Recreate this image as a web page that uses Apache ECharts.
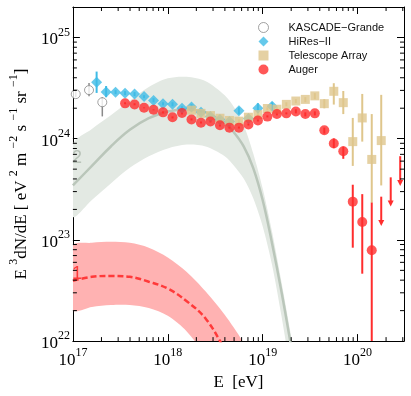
<!DOCTYPE html>
<html>
<head>
<meta charset="utf-8">
<script src="https://cdn.jsdelivr.net/npm/echarts@6/dist/echarts.min.js"></script>
<style>
html, body { margin: 0; padding: 0; background: #fff; }
#chart { width: 411px; height: 396px; }
</style>
</head>
<body>
<div id="chart"></div>
<script>
// every value is kept as log10: E in eV, E^3 dN/dE in eV^2 m^-2 s^-1 sr^-1
var kascadeE  = [17.03, 17.17, 17.31];
var kascadeJ  = [24.44, 24.48, 24.36];
var kascadeLo = [24.41, 24.42, 24.22];
var kascadeHi = [24.47, 24.55, 24.41];

var hiresE  = [17.25, 17.35, 17.45, 17.55, 17.65, 17.75, 17.85, 17.95, 18.05, 18.15, 18.25, 18.35, 18.45, 18.55, 18.65, 18.75, 18.85, 18.95, 19.1];
var hiresJ  = [24.558, 24.462, 24.459, 24.449, 24.442, 24.416, 24.378, 24.346, 24.339, 24.301, 24.314, 24.26, 24.22, 24.19, 24.17, 24.276, 24.2, 24.30, 24.32];
var hiresLo = [24.452, 24.41, 24.44, 24.43, 24.42, 24.40, 24.36, 24.33, 24.32, 24.28, 24.29, 24.24, 24.20, 24.17, 24.15, 24.24, 24.18, 24.25, 24.28];
var hiresHi = [24.663, 24.52, 24.48, 24.47, 24.46, 24.43, 24.40, 24.36, 24.36, 24.32, 24.34, 24.28, 24.24, 24.21, 24.19, 24.31, 24.22, 24.35, 24.36];

var taE  = [18.25, 18.35, 18.45, 18.55, 18.65, 18.75, 18.85, 18.95, 19.05, 19.15, 19.25, 19.35, 19.45, 19.55, 19.65, 19.75, 19.85, 19.95, 20.05, 20.15, 20.25];
var taJ  = [24.282, 24.25, 24.228, 24.202, 24.18, 24.173, 24.212, 24.238, 24.298, 24.291, 24.339, 24.372, 24.388, 24.423, 24.346, 24.468, 24.356, 23.971, 24.205, 23.795, 23.981];
var taLo = [24.27, 24.24, 24.22, 24.19, 24.17, 24.16, 24.20, 24.22, 24.28, 24.27, 24.32, 24.35, 24.36, 24.39, 24.30, 24.337, 24.243, 23.731, 23.971, 23.365, 23.538];
var taHi = [24.29, 24.26, 24.24, 24.21, 24.19, 24.19, 24.22, 24.25, 24.31, 24.31, 24.36, 24.39, 24.41, 24.45, 24.39, 24.548, 24.471, 24.205, 24.442, 24.243, 24.433];

var augerE  = [17.55, 17.65, 17.75, 17.85, 17.95, 18.05, 18.15, 18.25, 18.35, 18.45, 18.55, 18.65, 18.75, 18.85, 18.95, 19.05, 19.15, 19.25, 19.35, 19.45, 19.55, 19.65, 19.75, 19.85, 19.95, 20.05, 20.15];
var augerJ  = [24.349, 24.337, 24.305, 24.286, 24.26, 24.212, 24.253, 24.189, 24.157, 24.17, 24.132, 24.109, 24.109, 24.141, 24.18, 24.218, 24.243, 24.25, 24.269, 24.243, 24.25, 24.084, 23.952, 23.875, 23.378, 23.176, 22.897];
var augerLo = [24.34, 24.33, 24.30, 24.28, 24.25, 24.20, 24.24, 24.18, 24.15, 24.16, 24.12, 24.10, 24.10, 24.13, 24.17, 24.21, 24.23, 24.24, 24.25, 24.22, 24.23, 24.05, 23.907, 23.801, 22.923, 22.666, 21.9];
var augerHi = [24.36, 24.35, 24.31, 24.29, 24.27, 24.22, 24.26, 24.20, 24.17, 24.18, 24.14, 24.12, 24.12, 24.15, 24.19, 24.23, 24.26, 24.26, 24.29, 24.26, 24.27, 24.11, 24.003, 23.923, 23.545, 23.452, 23.368];

// Auger upper limits: value at top, arrow tip at bottom
var limitE   = [20.25, 20.35, 20.45];
var limitTop = [23.427, 23.618, 23.827];
var limitBot = [23.138, 23.33, 23.532];

// model 2 (grey band) and model 1 (red band)
var model2E     = [17.0, 17.2, 17.4, 17.6, 17.8, 18.0, 18.2, 18.4, 18.6, 18.7, 18.8, 18.9, 19.0, 19.1, 19.2, 19.3, 19.4];
var model2Upper = [23.942, 24.096, 24.231, 24.375, 24.51, 24.596, 24.611, 24.567, 24.428, 24.308, 24.135, 23.856, 23.51, 23.077, 22.577, 22.048, 21.45];
var model2Mid   = [23.538, 23.731, 23.923, 24.087, 24.202, 24.269, 24.288, 24.26, 24.154, 24.058, 23.923, 23.712, 23.394, 22.962, 22.481, 21.95, 21.4];
var model2Lower = [23.231, 23.394, 23.558, 23.712, 23.827, 23.904, 23.942, 23.923, 23.827, 23.731, 23.606, 23.413, 23.135, 22.75, 22.24, 21.66, 21.0];

var model1E     = [17.0, 17.2, 17.4, 17.6, 17.8, 18.0, 18.2, 18.4, 18.6, 18.8, 19.0];
var model1Upper = [22.942, 22.971, 22.981, 22.971, 22.923, 22.827, 22.683, 22.49, 22.26, 21.98, 21.6];
var model1Mid   = [22.596, 22.635, 22.644, 22.635, 22.587, 22.519, 22.394, 22.221, 21.92, 21.6, 21.2];
var model1Lower = [22.308, 22.337, 22.356, 22.356, 22.327, 22.25, 22.096, 21.85, 21.55, 21.2, 20.8];

// minor tick multipliers (2..9 x 10^n)
var minorMult = [2, 3, 4, 5, 6, 7, 8, 9];
var xMin = 17, xMax = 20.49, yMin = 22, yMax = 25.301;

var serif = 'Liberation Serif';
var sans = 'Liberation Sans';

function pairs(xs, ys) {
  return xs.map(function (x, i) { return [x, ys[i]]; });
}
function triples(xs, lo, hi) {
  return xs.map(function (x, i) { return [x, lo[i], hi[i]]; });
}

var xMinor = [], yMinor = [];
for (var n = 17; n <= 20; n++) {
  minorMult.forEach(function (m) {
    var v = n + Math.log10(m);
    if (v < xMax) xMinor.push([v, yMin]);
  });
}
for (var k = 22; k <= 25; k++) {
  minorMult.forEach(function (m) {
    var v = k + Math.log10(m);
    if (v <= yMax + 1e-6) yMinor.push([xMin, v]);
  });
}

function powLabel(v) {
  if (Math.abs(v - Math.round(v)) > 1e-6) return '';
  return '{b|10}{s|' + Math.round(v) + '}';
}
var powRich = {
  b: { fontFamily: serif, fontSize: 17, color: '#000', lineHeight: 22, verticalAlign: 'bottom' },
  s: { fontFamily: serif, fontSize: 12, color: '#000', lineHeight: 12, verticalAlign: 'top' }
};

function clipRect(cs) {
  return { type: 'rect', shape: { x: cs.x, y: cs.y, width: cs.width, height: cs.height } };
}

// filled band between two sampled edges
function band(xs, top, bot, color) {
  return {
    type: 'custom',
    data: [[xs[0], top[0]]],
    clip: true,
    silent: true,
    z: 1,
    renderItem: function (params, api) {
      var pts = [];
      for (var i = 0; i < xs.length; i++) pts.push(api.coord([xs[i], top[i]]));
      for (var j = xs.length - 1; j >= 0; j--) pts.push(api.coord([xs[j], bot[j]]));
      return {
        type: 'polygon',
        shape: { points: pts, smooth: 0.3 },
        style: { fill: color },
        clipPath: clipRect(params.coordSys)
      };
    }
  };
}

function errBar(color, width) {
  return function (params, api) {
    var p1 = api.coord([api.value(0), api.value(1)]);
    var p2 = api.coord([api.value(0), api.value(2)]);
    return {
      type: 'line',
      shape: { x1: p1[0], y1: p1[1], x2: p2[0], y2: p2[1] },
      style: { stroke: color, lineWidth: width },
      clipPath: clipRect(params.coordSys)
    };
  };
}

function limitArrow(params, api) {
  var p1 = api.coord([api.value(0), api.value(1)]);
  var p2 = api.coord([api.value(0), api.value(2)]);
  return {
    type: 'group',
    children: [
      { type: 'line', shape: { x1: p1[0], y1: p1[1], x2: p2[0], y2: p2[1] - 4 }, style: { stroke: '#ff2d2d', lineWidth: 2 } },
      { type: 'polygon', shape: { points: [[p2[0] - 3, p2[1] - 6], [p2[0] + 3, p2[1] - 6], [p2[0], p2[1]]] }, style: { fill: '#ff2d2d' } }
    ]
  };
}

function minorTickX(params, api) {
  var cs = params.coordSys;
  var p = api.coord([api.value(0), api.value(1)]);
  return {
    type: 'group',
    children: [
      { type: 'line', shape: { x1: p[0], y1: cs.y + cs.height, x2: p[0], y2: cs.y + cs.height - 4 }, style: { stroke: '#000', lineWidth: 1 } },
      { type: 'line', shape: { x1: p[0], y1: cs.y, x2: p[0], y2: cs.y + 4 }, style: { stroke: '#000', lineWidth: 1 } }
    ]
  };
}
function minorTickY(params, api) {
  var cs = params.coordSys;
  var p = api.coord([api.value(0), api.value(1)]);
  return {
    type: 'group',
    children: [
      { type: 'line', shape: { x1: cs.x, y1: p[1], x2: cs.x + 4, y2: p[1] }, style: { stroke: '#000', lineWidth: 1 } },
      { type: 'line', shape: { x1: cs.x + cs.width, y1: p[1], x2: cs.x + cs.width - 4, y2: p[1] }, style: { stroke: '#000', lineWidth: 1 } }
    ]
  };
}

var axisLine = { show: true, onZero: false, lineStyle: { color: '#000', width: 1 } };
var majorTick = { show: true, inside: true, length: 7, lineStyle: { color: '#000', width: 1 } };

var chart = echarts.init(document.getElementById('chart'), null, { renderer: 'canvas' });

var option = {
  animation: false,
  backgroundColor: '#fff',
  grid: { left: 60, right: 7, top: 7, bottom: 46 },
  legend: {
    data: [
      { name: 'KASCADE\u2212Grande', itemStyle: { color: '#fff', borderColor: '#8a8a8a', borderWidth: 1 } },
      'HiRes\u2212II', 'Telescope Array', 'Auger'
    ],
    orient: 'vertical',
    left: 253,
    top: 17,
    itemWidth: 10,
    itemHeight: 10,
    itemGap: 3,
    selectedMode: false,
    textStyle: { fontFamily: sans, fontSize: 11, color: '#111', padding: [0, 0, 0, 15] }
  },
  xAxis: [
    {
      type: 'value', min: xMin, max: xMax, interval: 1,
      axisLine: axisLine, axisTick: majorTick, splitLine: { show: false },
      axisLabel: { margin: 6, formatter: powLabel, rich: powRich },
      name: 'E  [eV]', nameLocation: 'middle', nameGap: 26,
      nameTextStyle: { fontFamily: serif, fontSize: 17, color: '#000' }
    },
    {
      type: 'value', min: xMin, max: xMax, interval: 1, position: 'top',
      axisLine: axisLine, axisTick: majorTick, splitLine: { show: false },
      axisLabel: { show: false }
    }
  ],
  yAxis: [
    {
      type: 'value', min: yMin, max: yMax, interval: 1,
      axisLine: axisLine, axisTick: majorTick, splitLine: { show: false },
      axisLabel: { margin: 3, formatter: powLabel, rich: powRich },
      name: '{b|E }{s|3}{b|dN/dE [ eV }{s|2}{b| m }{s|\u22122}{b| s }{s|\u22121}{b| sr }{s|\u22121}{b|]}',
      nameLocation: 'middle', nameGap: 33, nameRotate: 90,
      nameTextStyle: { rich: powRich }
    },
    {
      type: 'value', min: yMin, max: yMax, interval: 1, position: 'right',
      axisLine: axisLine, axisTick: majorTick, splitLine: { show: false },
      axisLabel: { show: false }
    }
  ],
  graphic: [
    { type: 'text', x: 77, y: 158, z: 5, style: { text: '2', fontFamily: sans, fontSize: 18, fill: '#b9c3b9', align: 'center', verticalAlign: 'middle' } },
    { type: 'text', x: 77, y: 274, z: 5, style: { text: '1', fontFamily: sans, fontSize: 18, fill: '#ff3a3a', align: 'center', verticalAlign: 'middle' } }
  ],
  series: [
    // model bands and central curves
    band(model2E, model2Upper, model2Lower, '#e3e9e3'),
    { type: 'line', data: pairs(model2E, model2Mid), smooth: 0.4, symbol: 'none', lineStyle: { color: '#bac6ba', width: 2.5 }, silent: true, z: 2 },
    band(model1E, model1Upper, model1Lower, '#ffb2b2'),
    { type: 'line', data: pairs(model1E, model1Mid), smooth: 0.4, symbol: 'none', lineStyle: { color: '#ff3a3a', width: 2.5, type: [6, 3] }, silent: true, z: 2 },
    // minor ticks
    { type: 'custom', data: xMinor, renderItem: minorTickX, silent: true, z: 6 },
    { type: 'custom', data: yMinor, renderItem: minorTickY, silent: true, z: 6 },
    // error bars
    { type: 'custom', data: triples(kascadeE, kascadeLo, kascadeHi), renderItem: errBar('#8a8a8a', 1.5), encode: { x: 0, y: [1, 2] }, clip: true, silent: true, z: 3 },
    { type: 'custom', data: triples(hiresE, hiresLo, hiresHi), renderItem: errBar('#3fbbe6', 2), encode: { x: 0, y: [1, 2] }, clip: true, silent: true, z: 3 },
    { type: 'custom', data: triples(taE, taLo, taHi), renderItem: errBar('#dfc68c', 2), encode: { x: 0, y: [1, 2] }, clip: true, silent: true, z: 3 },
    { type: 'custom', data: triples(augerE, augerLo, augerHi), renderItem: errBar('#ff2d2d', 2), encode: { x: 0, y: [1, 2] }, clip: true, silent: true, z: 3 },
    { type: 'custom', data: triples(limitE, limitTop, limitBot), renderItem: limitArrow, encode: { x: 0, y: [1, 2] }, clip: true, silent: true, z: 3 },
    // data points
    { name: 'KASCADE\u2212Grande', type: 'scatter', data: pairs(kascadeE, kascadeJ), symbol: 'circle', symbolSize: 9, itemStyle: { color: '#fff', borderColor: '#8a8a8a', borderWidth: 1 }, z: 4 },
    { name: 'HiRes\u2212II', type: 'scatter', data: pairs(hiresE, hiresJ), symbol: 'diamond', symbolSize: 11, itemStyle: { color: '#3fbbe6' }, z: 4 },
    { name: 'Telescope Array', type: 'scatter', data: pairs(taE, taJ), symbol: 'rect', symbolSize: 9, itemStyle: { color: '#dfc68c' }, z: 4 },
    { name: 'Auger', type: 'scatter', data: pairs(augerE, augerJ), symbol: 'circle', symbolSize: 10, itemStyle: { color: '#ff2d2d' }, z: 4 }
  ]
};

chart.setOption(option);
</script>
</body>
</html>
